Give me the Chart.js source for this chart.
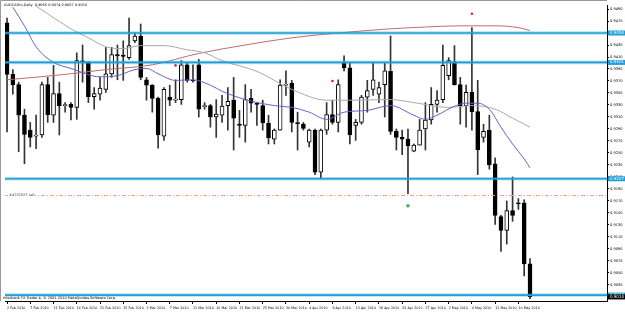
<!DOCTYPE html>
<html>
<head>
<meta charset="utf-8">
<script src="https://cdn.jsdelivr.net/npm/chart.js@4.4.1/dist/chart.umd.min.js"></script>
<style>
  html, body { margin: 0; padding: 0; background: #fff; }
  #wrap { width: 625px; height: 314px; }
</style>
</head>
<body>
<div id="wrap"><canvas id="chart" width="625" height="314"></canvas></div>
<script>
// AUDCADm daily bars, 2 Feb - 18 May 2010 (broker sends Sunday bars)
const dates = [
  "2 Feb 2010", "3 Feb 2010", "4 Feb 2010", "5 Feb 2010", "7 Feb 2010", "8 Feb 2010", "9 Feb 2010", "10 Feb 2010",
  "11 Feb 2010", "12 Feb 2010", "14 Feb 2010", "15 Feb 2010", "16 Feb 2010", "17 Feb 2010", "18 Feb 2010", "19 Feb 2010",
  "21 Feb 2010", "22 Feb 2010", "23 Feb 2010", "24 Feb 2010", "25 Feb 2010", "26 Feb 2010", "28 Feb 2010", "1 Mar 2010",
  "2 Mar 2010", "3 Mar 2010", "4 Mar 2010", "5 Mar 2010", "7 Mar 2010", "8 Mar 2010", "9 Mar 2010", "10 Mar 2010",
  "11 Mar 2010", "12 Mar 2010", "14 Mar 2010", "15 Mar 2010", "16 Mar 2010", "17 Mar 2010", "18 Mar 2010", "19 Mar 2010",
  "21 Mar 2010", "22 Mar 2010", "23 Mar 2010", "24 Mar 2010", "25 Mar 2010", "26 Mar 2010", "28 Mar 2010", "29 Mar 2010",
  "30 Mar 2010", "31 Mar 2010", "1 Apr 2010", "2 Apr 2010", "4 Apr 2010", "5 Apr 2010", "6 Apr 2010", "7 Apr 2010",
  "8 Apr 2010", "9 Apr 2010", "11 Apr 2010", "12 Apr 2010", "13 Apr 2010", "14 Apr 2010", "15 Apr 2010", "16 Apr 2010",
  "18 Apr 2010", "19 Apr 2010", "20 Apr 2010", "21 Apr 2010", "22 Apr 2010", "23 Apr 2010", "25 Apr 2010", "26 Apr 2010",
  "27 Apr 2010", "28 Apr 2010", "29 Apr 2010", "30 Apr 2010", "2 May 2010", "3 May 2010", "4 May 2010", "5 May 2010",
  "6 May 2010", "7 May 2010", "9 May 2010", "10 May 2010", "11 May 2010", "12 May 2010", "13 May 2010", "14 May 2010",
  "16 May 2010", "17 May 2010", "18 May 2010"
];

const opens = [
  0.9467, 0.9381, 0.9364, 0.9313, 0.9288, 0.9278, 0.9280, 0.9364, 0.9313, 0.9349,
  0.9329, 0.9331, 0.9326, 0.9403, 0.9402, 0.9344, 0.9348, 0.9356, 0.9382, 0.9414,
  0.9413, 0.9409, 0.9437, 0.9445, 0.9372, 0.9363, 0.9341, 0.9278, 0.9343, 0.9338,
  0.9339, 0.9397, 0.9371, 0.9397, 0.9327, 0.9329, 0.9310, 0.9313, 0.9329, 0.9338,
  0.9298, 0.9296, 0.9341, 0.9333, 0.9329, 0.9300, 0.9273, 0.9288, 0.9363, 0.9366,
  0.9300, 0.9298, 0.9268, 0.9288, 0.9218, 0.9288, 0.9314, 0.9301, 0.9401, 0.9392,
  0.9296, 0.9301, 0.9343, 0.9356, 0.9348, 0.9364, 0.9386, 0.9286, 0.9276, 0.9273,
  0.9253, 0.9263, 0.9290, 0.9305, 0.9331, 0.9339, 0.9379, 0.9402, 0.9364, 0.9329,
  0.9351, 0.9319, 0.9276, 0.9288, 0.9232, 0.9144, 0.9121, 0.9154, 0.9166, 0.9167,
  0.9065
];
const highs = [
  0.9475, 0.9389, 0.9368, 0.9323, 0.9301, 0.9313, 0.9368, 0.9376, 0.9396, 0.9368,
  0.9334, 0.9334, 0.9417, 0.9430, 0.9402, 0.9359, 0.9376, 0.9426, 0.9426, 0.9430,
  0.9437, 0.9475, 0.9450, 0.9465, 0.9376, 0.9364, 0.9343, 0.9359, 0.9363, 0.9372,
  0.9404, 0.9401, 0.9397, 0.9406, 0.9334, 0.9331, 0.9339, 0.9346, 0.9359, 0.9376,
  0.9321, 0.9364, 0.9356, 0.9334, 0.9338, 0.9313, 0.9290, 0.9372, 0.9387, 0.9371,
  0.9318, 0.9301, 0.9290, 0.9290, 0.9290, 0.9334, 0.9338, 0.9372, 0.9412, 0.9401,
  0.9306, 0.9346, 0.9371, 0.9401, 0.9368, 0.9401, 0.9445, 0.9290, 0.9288, 0.9290,
  0.9265, 0.9306, 0.9334, 0.9359, 0.9354, 0.9430, 0.9409, 0.9429, 0.9376, 0.9363,
  0.9459, 0.9371, 0.9298, 0.9313, 0.9242, 0.9146, 0.9170, 0.9210, 0.9174, 0.9172,
  0.9074
];
const lows = [
  0.9285, 0.9348, 0.9252, 0.9232, 0.9260, 0.9257, 0.9276, 0.9301, 0.9301, 0.9280,
  0.9318, 0.9305, 0.9306, 0.9368, 0.9334, 0.9323, 0.9338, 0.9351, 0.9376, 0.9372,
  0.9371, 0.9406, 0.9434, 0.9372, 0.9338, 0.9318, 0.9258, 0.9271, 0.9329, 0.9334,
  0.9331, 0.9368, 0.9368, 0.9310, 0.9323, 0.9293, 0.9276, 0.9301, 0.9288, 0.9255,
  0.9276, 0.9268, 0.9318, 0.9296, 0.9288, 0.9265, 0.9265, 0.9288, 0.9346, 0.9285,
  0.9255, 0.9288, 0.9260, 0.9214, 0.9207, 0.9281, 0.9298, 0.9285, 0.9387, 0.9265,
  0.9271, 0.9298, 0.9318, 0.9346, 0.9334, 0.9310, 0.9281, 0.9255, 0.9247, 0.9182,
  0.9252, 0.9263, 0.9255, 0.9298, 0.9318, 0.9334, 0.9372, 0.9363, 0.9298, 0.9293,
  0.9288, 0.9214, 0.9268, 0.9223, 0.9131, 0.9086, 0.9098, 0.9136, 0.9156, 0.9045,
  0.9007
];
const closes = [
  0.9381, 0.9364, 0.9313, 0.9281, 0.9276, 0.9280, 0.9364, 0.9314, 0.9349, 0.9329,
  0.9330, 0.9326, 0.9404, 0.9402, 0.9344, 0.9349, 0.9358, 0.9382, 0.9414, 0.9412,
  0.9411, 0.9429, 0.9445, 0.9376, 0.9363, 0.9341, 0.9280, 0.9356, 0.9338, 0.9339,
  0.9397, 0.9371, 0.9370, 0.9323, 0.9329, 0.9310, 0.9315, 0.9328, 0.9336, 0.9308,
  0.9296, 0.9339, 0.9333, 0.9331, 0.9300, 0.9275, 0.9288, 0.9363, 0.9364, 0.9301,
  0.9299, 0.9291, 0.9288, 0.9218, 0.9288, 0.9314, 0.9301, 0.9364, 0.9392, 0.9280,
  0.9301, 0.9343, 0.9354, 0.9372, 0.9359, 0.9387, 0.9286, 0.9276, 0.9273, 0.9262,
  0.9263, 0.9288, 0.9305, 0.9331, 0.9338, 0.9396, 0.9404, 0.9364, 0.9329, 0.9351,
  0.9319, 0.9255, 0.9286, 0.9230, 0.9146, 0.9121, 0.9154, 0.9146, 0.9165, 0.9065,
  0.9010
];

// moving averages at these bar indices
const fastIdx = [1, 3, 5, 8, 11, 16, 19, 22, 24, 26, 29, 32, 35, 37, 41, 46, 49, 52, 55, 58, 62, 66, 70, 72, 74, 77, 79, 81, 83, 85, 87, 89, 90];
const fastMa = [0.9493, 0.9462, 0.9427, 0.9401, 0.9391, 0.9377, 0.9379, 0.9389, 0.9391, 0.9382, 0.9371, 0.9372, 0.9363,
  0.9353, 0.9339, 0.9329, 0.9326, 0.9318, 0.9306, 0.9318, 0.9321, 0.9329, 0.9313, 0.9306, 0.9313, 0.9328, 0.9333,
  0.9333, 0.9323, 0.9293, 0.9265, 0.9240, 0.9225];
const midIdx = [5, 7, 11, 14, 17, 20, 23, 27, 31, 34, 37, 43, 49, 55, 59, 66, 70, 76, 80, 84, 87, 90];
const midMa = [0.9495, 0.9482, 0.9457, 0.9442, 0.9427, 0.9424, 0.9429, 0.9429, 0.9422, 0.9417, 0.9404, 0.9386, 0.9356,
  0.9338, 0.9338, 0.9339, 0.9334, 0.9326, 0.9329, 0.9323, 0.9308, 0.9293];
const slowIdx = [0, 10, 17, 25, 33, 41, 49, 57, 66, 72, 78, 84, 88, 90];
const slowMa = [0.9372, 0.9381, 0.9389, 0.9397, 0.9416, 0.9430, 0.9442, 0.9450, 0.9457, 0.9460, 0.9462, 0.9462, 0.9459, 0.9454];

const redMarkIdx = [29, 56, 80];
const redMarks = [0.9396, 0.9370, 0.9482];
const greenMarkIdx = [69];
const greenMarks = [0.9162];

const hLevels = [0.9450, 0.9401, 0.9207, 0.9013];
const orderLevel = 0.9180;
const orderText = "#4752523 sell";

const xTicks = [0, 4, 8, 12, 16, 20, 24, 28, 32, 36, 40, 44, 48, 52, 56, 60, 64, 68, 72, 76, 80, 84, 88];
const yTicks = [0.9010, 0.9030, 0.9050, 0.9070, 0.9090, 0.9110, 0.9130, 0.9150, 0.9170, 0.9190, 0.9210, 0.9230, 0.9250,
  0.9270, 0.9290, 0.9310, 0.9330, 0.9350, 0.9370, 0.9390, 0.9410, 0.9430, 0.9450, 0.9470, 0.9490];

const titleText = "AUDCADm,Daily  0.9065 0.9074 0.9007 0.9010";
const footText = "Interbank FX Trader 4, \u00a9 2001-2010 MetaQuotes Software Corp.";

const FONT = '"DejaVu Sans"';
const LINE_BLUE = "#1f9fd8";

const overlay = {
  id: "overlay",
  afterDatasetsDraw(chart) {
    const { ctx, chartArea: a, scales: { y } } = chart;
    ctx.save();

    // order line (dash-dot)
    const oy = Math.round(y.getPixelForValue(orderLevel)) + 0.5;
    ctx.strokeStyle = "#e6a58e";
    ctx.lineWidth = 1;
    ctx.setLineDash([4, 2, 1, 2]);
    ctx.beginPath();
    ctx.moveTo(a.left, oy);
    ctx.lineTo(a.right, oy);
    ctx.stroke();
    ctx.setLineDash([]);
    ctx.font = "3.5px " + FONT;
    ctx.textBaseline = "middle";
    ctx.fillStyle = "#fff";
    ctx.fillRect(a.left + 3, oy - 2, ctx.measureText(orderText).width + 1, 4);
    ctx.fillStyle = "#444";
    ctx.fillText(orderText, a.left + 4, oy);

    // horizontal levels
    ctx.font = "4px " + FONT;
    hLevels.forEach((v) => {
      const py = y.getPixelForValue(v);
      ctx.strokeStyle = "rgba(31,159,216,0.35)";
      ctx.lineWidth = 3.5;
      ctx.beginPath();
      ctx.moveTo(a.left, py);
      ctx.lineTo(a.right, py);
      ctx.stroke();
      ctx.strokeStyle = LINE_BLUE;
      ctx.lineWidth = 1.6;
      ctx.beginPath();
      ctx.moveTo(a.left, py);
      ctx.lineTo(a.right, py);
      ctx.stroke();
      ctx.fillStyle = LINE_BLUE;
      ctx.fillRect(a.right + 1, py - 2.5, 17, 5);
      ctx.fillStyle = "#fff";
      ctx.fillText(v.toFixed(4), a.right + 3, py);
    });

    // last price box
    const last = closes[closes.length - 1];
    const lp = y.getPixelForValue(last);
    ctx.fillStyle = "#000";
    ctx.fillRect(a.right + 1, lp - 2.5, 17, 5);
    ctx.fillStyle = "#fff";
    ctx.fillText(last.toFixed(4), a.right + 3, lp);
    ctx.restore();
  },
  afterDraw(chart) {
    const { ctx, chartArea: a } = chart;
    ctx.save();
    ctx.strokeStyle = "#9a9a9a";
    ctx.lineWidth = 1;
    ctx.beginPath();
    ctx.moveTo(0.5, a.bottom);
    ctx.lineTo(0.5, 0.5);
    ctx.lineTo(a.right, 0.5);
    ctx.stroke();
    ctx.font = "3.5px " + FONT;
    ctx.textBaseline = "middle";
    ctx.fillStyle = "#000";
    ctx.fillText(titleText, 4, 5);
    ctx.fillText(footText, 3, a.bottom - 3);
    ctx.restore();
  }
};

const idx = dates.map((d, i) => i);

const config = {
  type: "bar",
  data: {
    datasets: [
      {
        type: "line",
        label: "fast",
        data: fastIdx.map((x, k) => ({ x: x, y: fastMa[k] })),
        borderColor: "#6464c8",
        borderWidth: 1,
        pointRadius: 0,
        cubicInterpolationMode: "monotone",
        order: 0
      },
      {
        type: "line",
        label: "mid",
        data: midIdx.map((x, k) => ({ x: x, y: midMa[k] })),
        borderColor: "#a8a8a8",
        borderWidth: 1,
        pointRadius: 0,
        cubicInterpolationMode: "monotone",
        order: 0
      },
      {
        type: "line",
        label: "slow",
        data: slowIdx.map((x, k) => ({ x: x, y: slowMa[k] })),
        borderColor: "#c06c6c",
        borderWidth: 1,
        pointRadius: 0,
        cubicInterpolationMode: "monotone",
        order: 0
      },
      {
        type: "line",
        label: "red marks",
        data: redMarkIdx.map((x, k) => ({ x: x, y: redMarks[k] })),
        showLine: false,
        pointRadius: 1.3,
        pointBackgroundColor: "#e02828",
        pointBorderWidth: 0,
        order: 0
      },
      {
        type: "line",
        label: "green marks",
        data: greenMarkIdx.map((x, k) => ({ x: x, y: greenMarks[k] })),
        showLine: false,
        pointStyle: "cross",
        pointRadius: 2,
        pointBorderColor: "#1a8f1a",
        pointBorderWidth: 1,
        order: 0
      },
      {
        label: "body",
        data: idx.map((i) => ({ x: i, y: [opens[i], closes[i]] })),
        backgroundColor: idx.map((i) => (closes[i] >= opens[i] ? "#fff" : "#000")),
        borderColor: "#000",
        borderWidth: 1,
        borderSkipped: false,
        barThickness: 4,
        minBarLength: 1,
        grouped: false,
        order: 1
      },
      {
        label: "wick",
        data: idx.map((i) => ({ x: i, y: [lows[i], highs[i]] })),
        backgroundColor: "#333",
        borderWidth: 0,
        barThickness: 1,
        grouped: false,
        order: 2
      }
    ]
  },
  options: {
    responsive: false,
    animation: false,
    devicePixelRatio: 1,
    layout: { padding: { left: 1, top: 1, right: 0, bottom: 0 } },
    plugins: {
      legend: { display: false },
      tooltip: { enabled: false }
    },
    scales: {
      x: {
        type: "linear",
        offset: false,
        min: -0.35,
        max: 103.25,
        afterFit: (s) => { s.height = 13; },
        afterBuildTicks: (s) => { s.ticks = xTicks.map((v) => ({ value: v })); },
        ticks: {
          callback: (v) => dates[v],
          font: { family: FONT, size: 3.3 },
          color: "#000",
          align: "start",
          maxRotation: 0,
          autoSkip: false,
          padding: 2
        },
        grid: { offset: false, drawOnChartArea: false, drawTicks: true, tickLength: 3, color: "#000" },
        border: { display: true, color: "#000", width: 1 }
      },
      y: {
        position: "right",
        min: 0.90032,
        max: 0.94967,
        afterFit: (s) => { s.width = 18; },
        afterBuildTicks: (s) => { s.ticks = yTicks.map((v) => ({ value: v })); },
        ticks: {
          callback: (v) => v.toFixed(4),
          font: { family: FONT, size: 3.6 },
          color: "#000",
          padding: 1
        },
        grid: { drawOnChartArea: false, drawTicks: true, tickLength: 2, color: "#000" },
        border: { display: true, color: "#000", width: 1 }
      }
    }
  },
  plugins: [overlay]
};

new Chart(document.getElementById("chart"), config);
</script>
</body>
</html>
